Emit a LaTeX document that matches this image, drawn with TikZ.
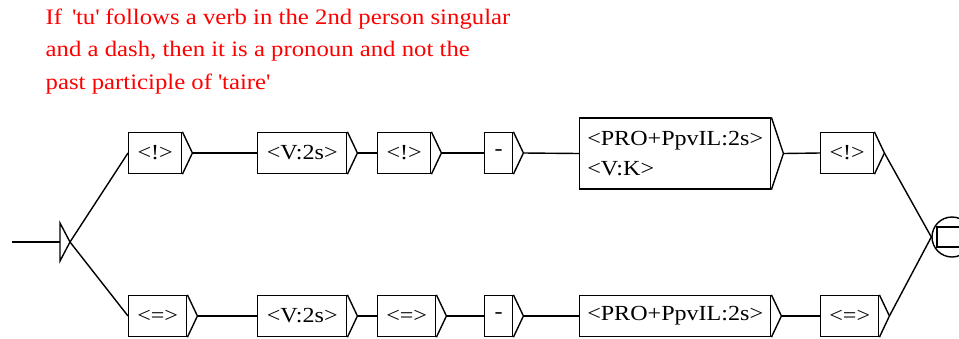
\documentclass[tikz,border=0pt]{standalone}
\usepackage{fontspec}
\setmainfont[FakeStretch=1.12]{Liberation Serif}
\usetikzlibrary{calc}
\begin{document}
\begin{tikzpicture}[x=1pt,y=-1pt,line width=1.4pt,
  box/.style={draw, rectangle, anchor=west, minimum height=41pt, inner sep=0pt,
    font=\fontsize{21.5}{30}\selectfont},
  bigbox/.style={box, minimum height=71pt, align=left},
  note/.style={text=red, anchor=north west, align=left, inner sep=0pt,
    font=\fontsize{22.1}{32.5}\selectfont}]
\clip (0,0) rectangle (959,338);
\useasboundingbox (0,0) rectangle (959,338);

\node[note] (cmt) at (45,8) {If \,\textquotesingle tu\textquotesingle{} follows a verb in the 2nd person singular\\and a dash, then it is a pronoun and not the\\past participle of \textquotesingle taire\textquotesingle};

% initial state
\coordinate (start) at (12,242);
\coordinate (ia) at (60,223);
\coordinate (ib) at (60,261);
\coordinate (itip) at (70,242);
\draw (start) -- (60,242);
\draw (ia) -- (itip) -- (ib) -- cycle;

% top row
\node[box, minimum width=53pt] (a1) at (128,153) {<!>};
\node[box, minimum width=89pt] (a2) at (257,153) {<V:2s>};
\node[box, minimum width=53pt] (a3) at (377,153) {<!>};
\node[box, minimum width=28pt] (a4) at (484,153) {-};
\node[bigbox, minimum width=191pt] (a5) at (579,153.5) {<PRO+PpvIL:2s>\\<V:K>};
\node[box, minimum width=53pt] (a6) at (820,153) {<!>};

% bottom row
\node[box, minimum width=58pt] (b1) at (128,316) {<=>};
\node[box, minimum width=89pt] (b2) at (257,316) {<V:2s>};
\node[box, minimum width=58pt] (b3) at (377,316) {<=>};
\node[box, minimum width=28pt] (b4) at (484,316) {-};
\node[box, minimum width=191pt] (b5) at (579,316) {<PRO+PpvIL:2s>};
\node[box, minimum width=58pt] (b6) at (820,316) {<=>};

% output triangles
\foreach \n in {a1,a2,a3,a4,a6,b1,b2,b3,b4,b5,b6}{
  \draw (\n.north east) -- ($(\n.east)+(10,0)$) coordinate (\n-t) -- (\n.south east);
}
\draw (a5.north east) -- ($(a5.east)+(12,0)$) coordinate (a5-t) -- (a5.south east);

% final state
\node[draw, circle, minimum size=40pt, inner sep=0pt] (fin) at (952,237) {};
\node[draw, rectangle, minimum width=30pt, minimum height=20pt, inner sep=0pt] (finsq) at (952,237) {};

% connectors
\draw (itip) -- (a1.west);
\draw (itip) -- (b1.west);
\draw (a1-t) -- (a2.west);
\draw (a2-t) -- (a3.west);
\draw (a3-t) -- (a4.west);
\draw (a4-t) -- (a5.west);
\draw (a5-t) -- (a6.west);
\draw (a6-t) -- (fin.west);
\draw (b1-t) -- (b2.west);
\draw (b2-t) -- (b3.west);
\draw (b3-t) -- (b4.west);
\draw (b4-t) -- (b5.west);
\draw (b5-t) -- (b6.west);
\draw (b6-t) -- (fin.west);
\end{tikzpicture}
\end{document}
